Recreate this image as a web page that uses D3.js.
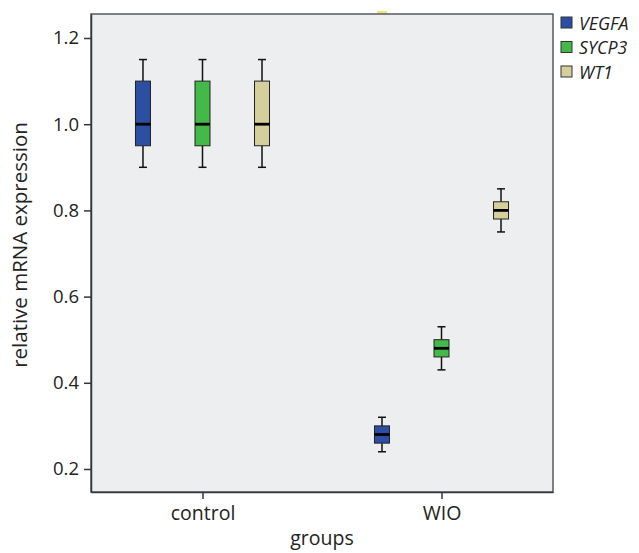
<!DOCTYPE html>
<html>
<head>
<meta charset="utf-8">
<script src="https://cdn.jsdelivr.net/npm/d3@7"></script>
<style>
  html, body { margin: 0; padding: 0; background: #fff; }
  svg { display: block; font-family: "Open Sans", sans-serif; }
</style>
</head>
<body>
<svg id="chart" width="639" height="553"></svg>
<script>
// Groups and genes
const groups = ["control", "WIO"];
const genes = ["VEGFA", "SYCP3", "WT1"];
const geneColors = ["#2c4fa3", "#43b94a", "#d5cf9c"];

// Box statistics per gene, in group order: [min, q1, median, q3, max]
const vegfaStats = [[0.90, 0.95, 1.00, 1.10, 1.15], [0.24, 0.26, 0.28, 0.30, 0.32]];
const sycp3Stats = [[0.90, 0.95, 1.00, 1.10, 1.15], [0.43, 0.46, 0.48, 0.50, 0.53]];
const wt1Stats   = [[0.90, 0.95, 1.00, 1.10, 1.15], [0.75, 0.78, 0.80, 0.82, 0.85]];

const yTicks = [0.2, 0.4, 0.6, 0.8, 1.0, 1.2];
const yDomain = [0.1466, 1.2557];

const seriesStats = [vegfaStats, sycp3Stats, wt1Stats];

const svg = d3.select("#chart");
const plot = { left: 91, right: 553, top: 14, bottom: 492 };

const y = d3.scaleLinear().domain(yDomain).range([plot.bottom, plot.top]);
const x = d3.scalePoint().domain(groups).range([plot.left, plot.right]).padding(0.4665);
const geneOffset = d3.scalePoint().domain(genes).range([-x.step() * 0.249, x.step() * 0.249]);

// Plot background
svg.append("rect")
  .attr("x", plot.left).attr("y", plot.top)
  .attr("width", plot.right - plot.left).attr("height", plot.bottom - plot.top)
  .attr("fill", "#edeeef");

// Boxes
const boxW = 15, capW = 8;
const boxes = [];
genes.forEach((g, gi) => {
  groups.forEach((grp, ki) => {
    const s = seriesStats[gi][ki];
    boxes.push({ gene: g, group: grp, color: geneColors[gi], min: s[0], q1: s[1], med: s[2], q3: s[3], max: s[4] });
  });
});

const bx = svg.append("g").selectAll("g").data(boxes).join("g")
  .attr("transform", d => `translate(${x(d.group) + geneOffset(d.gene)},0)`);

bx.append("line").attr("x1", 0).attr("x2", 0)
  .attr("y1", d => y(d.max)).attr("y2", d => y(d.q3))
  .attr("stroke", "#111").attr("stroke-width", 1.5);
bx.append("line").attr("x1", 0).attr("x2", 0)
  .attr("y1", d => y(d.q1)).attr("y2", d => y(d.min))
  .attr("stroke", "#111").attr("stroke-width", 1.5);
bx.append("line").attr("x1", -capW / 2).attr("x2", capW / 2)
  .attr("y1", d => y(d.max)).attr("y2", d => y(d.max))
  .attr("stroke", "#111").attr("stroke-width", 1.5);
bx.append("line").attr("x1", -capW / 2).attr("x2", capW / 2)
  .attr("y1", d => y(d.min)).attr("y2", d => y(d.min))
  .attr("stroke", "#111").attr("stroke-width", 1.5);
bx.append("rect")
  .attr("x", -boxW / 2).attr("width", boxW)
  .attr("y", d => y(d.q3)).attr("height", d => y(d.q1) - y(d.q3))
  .attr("fill", d => d.color).attr("stroke", "#222").attr("stroke-width", 1);
bx.append("line").attr("x1", -boxW / 2).attr("x2", boxW / 2)
  .attr("y1", d => y(d.med)).attr("y2", d => y(d.med))
  .attr("stroke", "#000").attr("stroke-width", 2.8);

// Small marker pinned to the top edge above the WIO VEGFA box
svg.append("rect")
  .attr("x", x("WIO") + geneOffset("VEGFA") - 5).attr("width", 10)
  .attr("y", y(yDomain[1]) - 3).attr("height", 3)
  .attr("fill", "#f3e27c");

// Frame
svg.append("rect")
  .attr("x", plot.left).attr("y", plot.top)
  .attr("width", plot.right - plot.left).attr("height", plot.bottom - plot.top)
  .attr("fill", "none").attr("stroke", "#555b60").attr("stroke-width", 1.5);

// Y axis
const yAxis = svg.append("g").attr("transform", `translate(${plot.left},0)`)
  .call(d3.axisLeft(y).tickValues(yTicks).tickFormat(d3.format(".1f"))
    .tickSize(7).tickSizeOuter(0).tickPadding(5));
yAxis.select(".domain").attr("stroke", "#33383c").attr("stroke-width", 1.5);
yAxis.selectAll(".tick line").attr("stroke", "#33383c").attr("stroke-width", 1.5);
yAxis.selectAll(".tick text").attr("font-size", 18.5).attr("fill", "#222")
  .attr("font-family", "'Open Sans', sans-serif");

// X axis
const xAxis = svg.append("g").attr("transform", `translate(0,${plot.bottom})`)
  .call(d3.axisBottom(x).tickSize(7).tickSizeOuter(0).tickPadding(7));
xAxis.select(".domain").attr("stroke", "#33383c").attr("stroke-width", 1.5);
xAxis.selectAll(".tick line").attr("stroke", "#33383c").attr("stroke-width", 1.5);
xAxis.selectAll(".tick text").attr("font-size", 19.5).attr("fill", "#222")
  .attr("font-family", "'Open Sans', sans-serif");

// Axis titles
svg.append("text")
  .attr("x", (plot.left + plot.right) / 2).attr("y", 545)
  .attr("text-anchor", "middle").attr("font-size", 19.5).attr("fill", "#222")
  .text("groups");
svg.append("text")
  .attr("transform", "translate(27,245) rotate(-90)")
  .attr("text-anchor", "middle").attr("font-size", 20.5).attr("fill", "#222")
  .text("relative mRNA expression");

// Legend
const legend = svg.append("g").attr("transform", "translate(561,17)");
const li = legend.selectAll("g").data(genes).join("g")
  .attr("transform", (d, i) => `translate(0,${i * 24.5})`);
li.append("rect").attr("width", 11).attr("height", 11)
  .attr("fill", (d, i) => geneColors[i]).attr("stroke", "#333").attr("stroke-width", 1);
li.append("text").attr("x", 18).attr("y", 12.5)
  .attr("font-size", 17.8).attr("font-style", "italic").attr("fill", "#222")
  .text(d => d);
</script>
</body>
</html>
